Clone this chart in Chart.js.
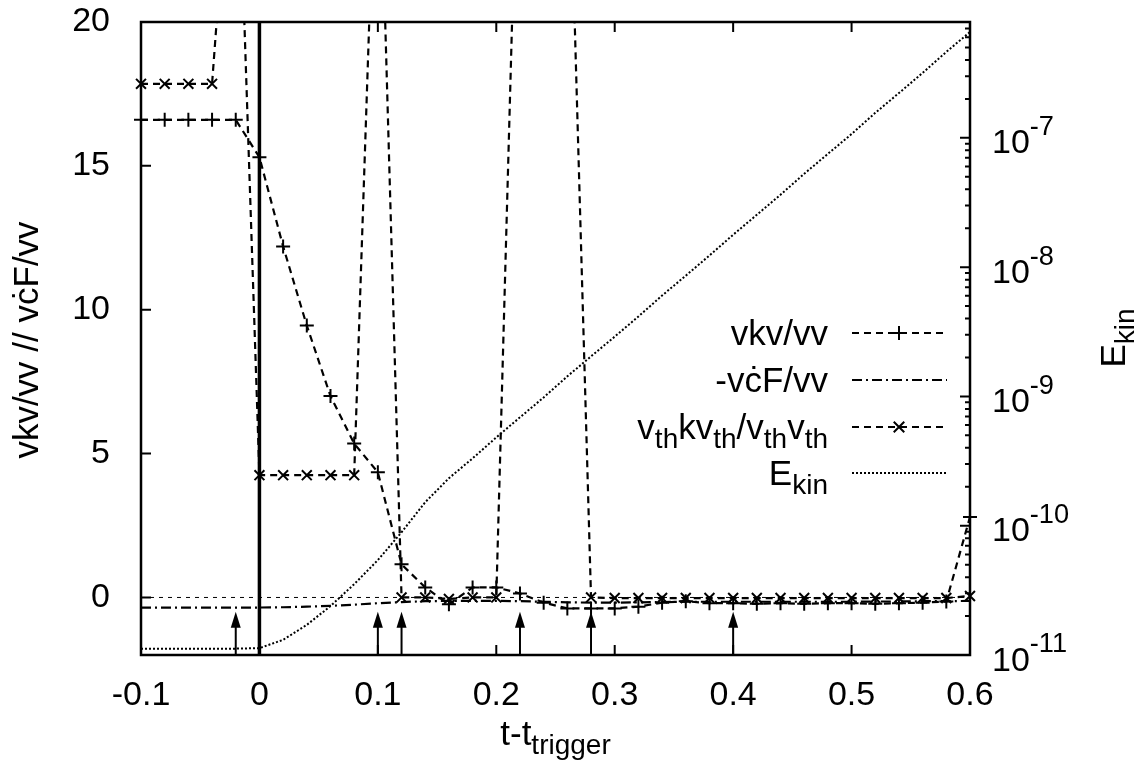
<!DOCTYPE html>
<html lang="en">
<head>
<meta charset="UTF-8">
<title>vkv/vv and E_kin around the trigger</title>
<script src="https://cdn.jsdelivr.net/npm/chart.js"></script>
<style>
  body { margin: 0; background: #fff; }
  canvas { display: block; }
</style>
</head>
<body>
<canvas id="chart" width="1142" height="773"></canvas>
<script>
// time relative to trigger
const tValues = [-0.1, -0.08, -0.06, -0.04, -0.02, 0, 0.02, 0.04, 0.06, 0.08,
  0.1, 0.12, 0.14, 0.16, 0.18, 0.2, 0.22, 0.24, 0.26, 0.28,
  0.3, 0.32, 0.34, 0.36, 0.38, 0.4, 0.42, 0.44, 0.46, 0.48,
  0.5, 0.52, 0.54, 0.56, 0.58, 0.6];

// vkv/vv  (+)
const vkv = [16.6, 16.6, 16.6, 16.6, 16.6, 15.3, 12.2, 9.45, 7.0, 5.35,
  4.35, 1.15, 0.35, -0.24, 0.35, 0.35, 0.14, -0.18, -0.38, -0.38,
  -0.38, -0.32, -0.18, -0.13, -0.2, -0.2, -0.22, -0.2, -0.22, -0.2,
  -0.2, -0.22, -0.2, -0.18, -0.14, 2.8];

// -v cdot F / vv
const vcf = [-0.35, -0.35, -0.35, -0.35, -0.35, -0.35, -0.34, -0.32, -0.29, -0.25,
  -0.2, -0.16, -0.13, -0.12, -0.12, -0.12, -0.13, -0.15, -0.17, -0.18,
  -0.18, -0.17, -0.16, -0.15, -0.15, -0.15, -0.15, -0.15, -0.15, -0.15,
  -0.15, -0.14, -0.14, -0.13, -0.13, -0.12];

// v_th k v_th / v_th v_th  (x)
const vthk = [17.85, 17.85, 17.85, 17.85, 29, 4.25, 4.25, 4.25, 4.25, 4.25,
  29, 0.0, 0.0, -0.05, 0.0, 0.0, 30, 30, 29, 0.0,
  -0.02, -0.02, -0.02, -0.02, -0.02, -0.02, -0.02, -0.02, -0.02, -0.02,
  -0.02, -0.02, -0.02, -0.02, -0.02, 0.05];

// kinetic energy (right axis, log)
const ekin = [1.12e-11, 1.12e-11, 1.12e-11, 1.12e-11, 1.12e-11, 1.13e-11, 1.31e-11, 1.71e-11, 2.39e-11, 3.53e-11,
  5.42e-11, 8.9e-11, 1.52e-10, 2.33e-10, 3.32e-10, 4.82e-10, 6.89e-10, 9.82e-10, 1.43e-9, 2.04e-9,
  2.90e-9, 4.15e-9, 6.03e-9, 8.59e-9, 1.23e-8, 1.78e-8, 2.54e-8, 3.63e-8, 5.27e-8, 7.52e-8,
  1.07e-7, 1.56e-7, 2.22e-7, 3.18e-7, 4.62e-7, 6.59e-7];

const triggerLine = [0];
const arrowTimes = [-0.02, 0.1, 0.12, 0.22, 0.28, 0.4];

const xTickValues = [-0.1, 0, 0.1, 0.2, 0.3, 0.4, 0.5, 0.6];
const leftTickValues = [0, 5, 10, 15, 20];
const rightTickValues = [1e-11, 1e-10, 1e-9, 1e-8, 1e-7];

const xMin = -0.1, xMax = 0.6, yMin = -2, yMax = 20;
const y2Min = 1e-11, y2Max = 7.87e-7;
const arrowTip = -0.5;

const FAMILY = '"Liberation Sans", Arial, sans-serif';
const fnt = size => size + 'px ' + FAMILY;

const pts = arr => arr.map((v, i) => ({ x: tValues[i], y: v }));

const dashA = [7, 5];
const dashDot = [10, 4, 2, 4];
const dots = [2, 2];

const legendRows = [
  { parts: [{ t: 'vkv/vv' }], dash: dashA, marker: 'cross' },
  { parts: [{ t: '-v\u010BF/vv' }], dash: dashDot, marker: null },
  { parts: [{ t: 'v' }, { t: 'th', sub: true }, { t: 'kv' }, { t: 'th', sub: true }, { t: '/v' }, { t: 'th', sub: true }, { t: 'v' }, { t: 'th', sub: true }], dash: dashA, marker: 'crossRot' },
  { parts: [{ t: 'E' }, { t: 'kin', sub: true }], dash: dots, marker: null }
];

function drawRich(ctx, parts, x, y, size, align) {
  const small = size * 0.8;
  let w = 0;
  parts.forEach(p => { ctx.font = fnt(p.sub || p.sup ? small : size); w += ctx.measureText(p.t).width; });
  let cx = align === 'right' ? x - w : align === 'center' ? x - w / 2 : x;
  ctx.textAlign = 'left';
  ctx.textBaseline = 'alphabetic';
  parts.forEach(p => {
    ctx.font = fnt(p.sub || p.sup ? small : size);
    const dy = p.sub ? size * 0.25 : p.sup ? -size * 0.53 : 0;
    ctx.fillText(p.t, cx, y + dy);
    cx += ctx.measureText(p.t).width;
  });
}

function drawMarker(ctx, style, x, y, r) {
  ctx.beginPath();
  if (style === 'cross') {
    ctx.moveTo(x - r, y); ctx.lineTo(x + r, y);
    ctx.moveTo(x, y - r); ctx.lineTo(x, y + r);
  } else {
    const d = r * 0.75;
    ctx.moveTo(x - d, y - d); ctx.lineTo(x + d, y + d);
    ctx.moveTo(x - d, y + d); ctx.lineTo(x + d, y - d);
  }
  ctx.stroke();
}

const gnuplotDecor = {
  id: 'gnuplotDecor',
  afterDatasetsDraw(chart) {
    const { ctx, chartArea: a, scales } = chart;
    const xs = scales.x, ys = scales.y, y2s = scales.y2;
    ctx.save();
    ctx.strokeStyle = '#000';
    ctx.fillStyle = '#000';
    ctx.lineWidth = 2;
    ctx.setLineDash([]);

    // inward tick marks
    ctx.beginPath();
    xTickValues.forEach(v => {
      const px = xs.getPixelForValue(v);
      ctx.moveTo(px, a.bottom); ctx.lineTo(px, a.bottom - 10);
      ctx.moveTo(px, a.top); ctx.lineTo(px, a.top + 10);
    });
    leftTickValues.forEach(v => {
      const py = ys.getPixelForValue(v);
      ctx.moveTo(a.left, py); ctx.lineTo(a.left + 10, py);
    });
    for (let d = -11; d <= -7; d++) {
      for (let m = 1; m <= 9; m++) {
        const v = m * Math.pow(10, d);
        if (v > y2Max) continue;
        const py = y2s.getPixelForValue(v);
        ctx.moveTo(a.right, py); ctx.lineTo(a.right - (m === 1 ? 10 : 5), py);
      }
    }
    ctx.stroke();

    // frame
    ctx.lineWidth = 2.5;
    ctx.strokeRect(a.left, a.top, a.right - a.left, a.bottom - a.top);
    ctx.lineWidth = 2;

    // trigger arrows
    arrowTimes.forEach(t => {
      const px = xs.getPixelForValue(t);
      const pTip = ys.getPixelForValue(arrowTip);
      ctx.beginPath();
      ctx.moveTo(px, a.bottom); ctx.lineTo(px, pTip + 10);
      ctx.stroke();
      ctx.beginPath();
      ctx.moveTo(px, pTip);
      ctx.lineTo(px - 5, pTip + 16);
      ctx.lineTo(px + 5, pTip + 16);
      ctx.closePath();
      ctx.fill();
    });

    // right axis labels 10^n
    rightTickValues.forEach(v => {
      const py = y2s.getPixelForValue(v);
      const e = Math.round(Math.log10(v));
      drawRich(ctx, [{ t: '10' }, { t: String(e), sup: true }], 992, py + 15.5, 34, 'left');
    });

    // axis titles
    ctx.save();
    ctx.translate(26, 340);
    ctx.rotate(-Math.PI / 2);
    drawRich(ctx, [{ t: 'vkv/vv // v\u010BF/vv' }], 0, 12, 35, 'center');
    ctx.restore();

    ctx.save();
    ctx.translate(1113, 338);
    ctx.rotate(-Math.PI / 2);
    drawRich(ctx, [{ t: 'E' }, { t: 'kin', sub: true }], 0, 12, 35, 'center');
    ctx.restore();

    drawRich(ctx, [{ t: 't-t' }, { t: 'trigger', sub: true }], (a.left + a.right) / 2, 745, 35, 'center');

    // key
    const rowY = [333, 380, 427, 473];
    legendRows.forEach((row, i) => {
      const y = rowY[i];
      drawRich(ctx, row.parts, 828, y + 12, 35, 'right');
      ctx.lineWidth = 2;
      ctx.setLineDash(row.dash);
      ctx.beginPath();
      ctx.moveTo(852, y); ctx.lineTo(947, y);
      ctx.stroke();
      ctx.setLineDash([]);
      if (row.marker) { drawMarker(ctx, row.marker, 899, y, 7); }
    });
    ctx.restore();
  }
};

Chart.defaults.font.family = FAMILY;
Chart.defaults.color = '#000';

const clipBox = { left: 8, right: 8, top: 0, bottom: 0 };
const noPad = s => { s.paddingTop = 0; s.paddingBottom = 0; s.paddingLeft = 0; s.paddingRight = 0; };

new Chart(document.getElementById('chart'), {
  type: 'scatter',
  data: {
    datasets: [
      {
        label: 'vkv/vv', data: pts(vkv), yAxisID: 'y', showLine: true,
        borderColor: '#000', borderWidth: 2.2, borderDash: dashA,
        pointStyle: 'cross', pointRadius: 7, pointBorderWidth: 2, pointBorderColor: '#000',
        clip: clipBox
      },
      {
        label: '-vcF/vv', data: pts(vcf), yAxisID: 'y', showLine: true,
        borderColor: '#000', borderWidth: 2.2, borderDash: dashDot, pointRadius: 0,
        clip: clipBox
      },
      {
        label: 'vthkvth/vthvth', data: pts(vthk), yAxisID: 'y', showLine: true,
        borderColor: '#000', borderWidth: 2.2, borderDash: dashA,
        pointStyle: 'crossRot', pointRadius: 7, pointBorderWidth: 2, pointBorderColor: '#000',
        clip: clipBox
      },
      {
        label: 'Ekin', data: pts(ekin), yAxisID: 'y2', showLine: true,
        borderColor: '#000', borderWidth: 2, borderDash: dots, pointRadius: 0,
        clip: clipBox
      },
      {
        label: 'zero', data: [{ x: xMin, y: 0 }, { x: xMax, y: 0 }], yAxisID: 'y', showLine: true,
        borderColor: '#000', borderWidth: 1, borderDash: [4, 5], pointRadius: 0
      },
      {
        label: 'trigger', data: [{ x: triggerLine[0], y: yMin }, { x: triggerLine[0], y: yMax }], yAxisID: 'y', showLine: true,
        borderColor: '#000', borderWidth: 3.5, pointRadius: 0
      }
    ]
  },
  options: {
    responsive: false,
    animation: false,
    layout: { padding: { top: 22, left: 0, right: 0, bottom: 0 } },
    plugins: { legend: { display: false }, tooltip: { enabled: false } },
    scales: {
      x: {
        type: 'linear', min: xMin, max: xMax,
        grid: { display: false }, border: { display: false },
        afterBuildTicks: s => { s.ticks = xTickValues.map(v => ({ value: v })); },
        afterFit: s => { s.height = 118; noPad(s); },
        ticks: {
          font: { size: 34 }, color: '#000', padding: 12, maxRotation: 0, autoSkip: false,
          callback: v => String(+Number(v).toFixed(1))
        }
      },
      y: {
        type: 'linear', position: 'left', min: yMin, max: yMax,
        grid: { display: false }, border: { display: false },
        afterBuildTicks: s => { s.ticks = leftTickValues.map(v => ({ value: v })); },
        afterFit: s => { s.width = 141; noPad(s); },
        ticks: { font: { size: 34 }, color: '#000', padding: 23 }
      },
      y2: {
        type: 'logarithmic', position: 'right', min: y2Min, max: y2Max,
        grid: { display: false }, border: { display: false },
        ticks: { display: false },
        afterFit: s => { s.width = 172; noPad(s); }
      }
    }
  },
  plugins: [gnuplotDecor]
});
</script>
</body>
</html>
